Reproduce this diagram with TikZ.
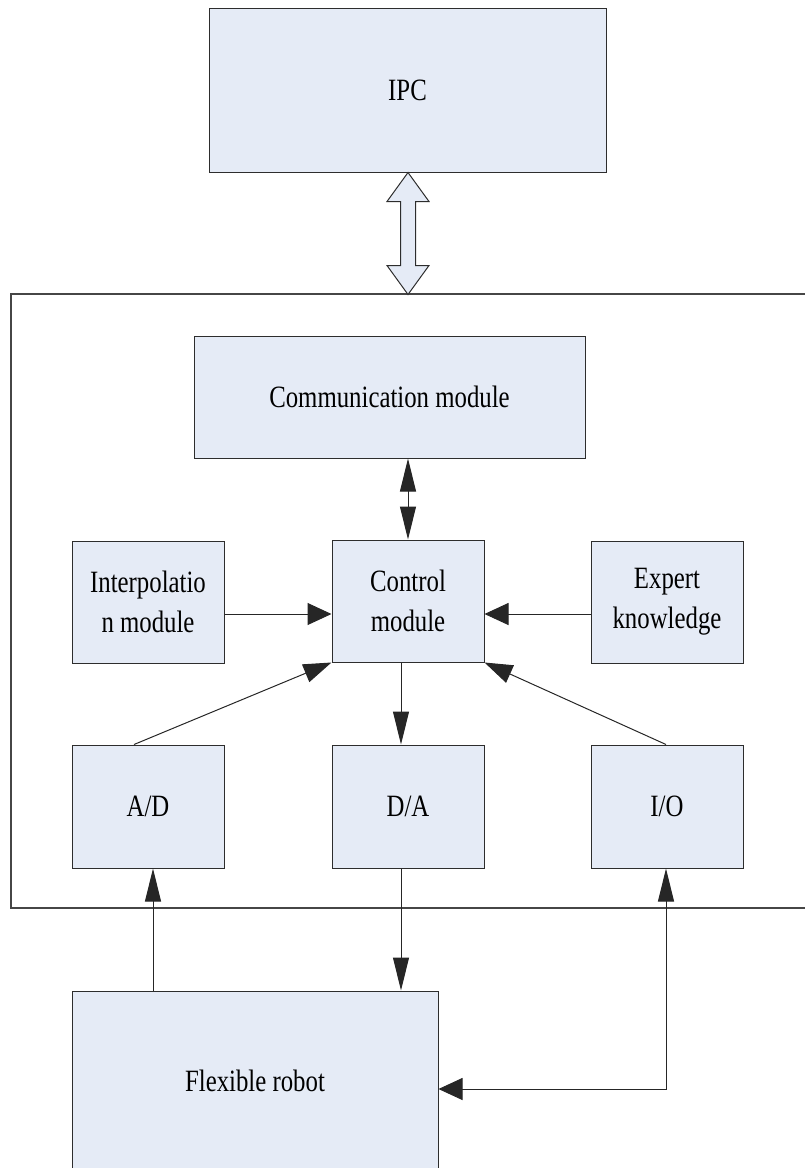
\documentclass[tikz,border=0pt]{standalone}
\usepackage{fontspec}
\setmainfont{Liberation Serif}[FakeStretch=0.8]
\usetikzlibrary{arrows.meta}
\definecolor{boxfill}{RGB}{229,235,246}
\definecolor{edge}{RGB}{45,45,45}
\definecolor{framecol}{RGB}{70,70,70}
\begin{document}
\begin{tikzpicture}[x=1pt,y=-1pt,
  box/.style={draw=edge, fill=boxfill, line width=1pt, inner sep=0pt, align=center,
    font=\fontsize{31}{40}\selectfont},
  conn/.style={draw=black!85, line width=1pt},
  vtip/.style={-{Triangle[length=33pt,width=16pt]}},
  htip/.style={-{Triangle[length=24pt,width=22pt]}},
  dgtip/.style={-{Triangle[length=28pt,width=19pt]}},
  dvtip/.style={{Triangle[length=33pt,width=16pt]}-{Triangle[length=33pt,width=16pt]}},
  hvtip/.style={{Triangle[length=24pt,width=22pt]}-{Triangle[length=33pt,width=16pt]}},
  framestyle/.style={draw=framecol, line width=1.3pt}
]
\useasboundingbox (0,0) rectangle (805,1168);

% outer frame (open on the right)
\coordinate (ftr) at (805,294);
\coordinate (ftl) at (11,294);
\coordinate (fbl) at (11,908);
\coordinate (fbr) at (805,908);
\draw[framestyle] (ftr) -- (ftl) -- (fbl) -- (fbr);

% boxes
\node[box, minimum width=397pt, minimum height=164pt] (IPC) at (407.5,90) {IPC};
\node[box, minimum width=391pt, minimum height=122pt] (Comm) at (389.5,397) {Communication module};
\node[box, minimum width=152pt, minimum height=122pt] (Interp) at (148,602) {Interpolatio\\n module};
\node[box, minimum width=152pt, minimum height=122pt] (Control) at (408,601) {Control\\module};
\node[box, minimum width=152pt, minimum height=122pt] (Expert) at (667,602) {Expert\\knowledge};
\node[box, minimum width=152pt, minimum height=123pt] (AD) at (148,806.5) {A/D};
\node[box, minimum width=152pt, minimum height=123pt] (DA) at (408,806.5) {D/A};
\node[box, minimum width=152pt, minimum height=123pt] (IO) at (667,806.5) {I/O};
\node[box, minimum width=366pt, minimum height=180pt] (Robot) at (255,1081) {Flexible robot};

% hollow double arrow between IPC and the frame
\coordinate (dt) at ([xshift=0.5pt]IPC.south);
\draw[draw=edge, fill=boxfill, line width=1pt, line join=miter]
  (dt) -- ++(21,29) -- ++(-13.5,0) -- ++(0,64) -- ++(13.5,0) -- ++(-21,29)
  -- ++(-21,-29) -- ++(13.5,0) -- ++(0,-64) -- ++(-13.5,0) -- cycle;

% connectors
\draw[conn, dvtip] (Control.north) -- (Control.north |- Comm.south);
\draw[conn, htip] ([yshift=-12pt]Interp.east) -- ([yshift=-12pt]Interp.east -| Control.west);
\draw[conn, htip] ([yshift=-12pt]Expert.west) -- ([yshift=-12pt]Expert.west -| Control.east);
\draw[conn, dgtip] ([xshift=-14pt]AD.north) -- (Control.south west);
\draw[conn, dgtip] ([xshift=-1pt]IO.north) -- (Control.south east);
\draw[conn, vtip] ([xshift=-7pt]Control.south) -- ([xshift=-7pt]DA.north);
\draw[conn, vtip] ([xshift=5pt]AD.south |- Robot.north) -- ([xshift=5pt]AD.south);
\draw[conn, vtip] ([xshift=-7pt]DA.south) -- ([xshift=-7pt]DA.south |- Robot.north);
\draw[conn, hvtip] ([yshift=-8pt]Robot.east) -| ([xshift=-1pt]IO.south);
\end{tikzpicture}
\end{document}
